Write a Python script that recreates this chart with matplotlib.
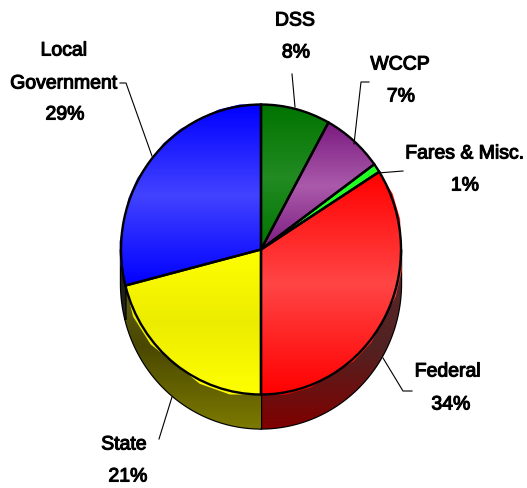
#!/usr/bin/env python3
import numpy as np
import matplotlib
matplotlib.use("Agg")
import matplotlib.pyplot as plt
import matplotlib.patheffects as pe
from matplotlib.colors import LinearSegmentedColormap
from matplotlib.lines import Line2D
from matplotlib.patches import Polygon

ANCHO, ALTO = 527, 489

categorias = ["DSS", "WCCP", "Fares & Misc.", "Federal", "State", "Local\nGovernment"]
valores = [8, 7, 1, 34, 21, 29]

# color borde / centro de cada rebanada (degradado vertical)
color_borde = ["#007400", "#7a1a80", "#22ff22", "#ff0000", "#ffff00", "#0000ff"]
color_centro = ["#228b22", "#aa5aaa", "#22ff22", "#ff4545", "#ecec00", "#4242ff"]
# lateral: abajo / medio / arriba
lado_colores = [
    ("#005000", "#003000", "#005000"),
    ("#500a50", "#300530", "#500a50"),
    ("#0a800a", "#0a600a", "#0a800a"),
    ("#800000", "#522222", "#5a2626"),
    ("#7c7a00", "#4a4800", "#6a6820"),
    ("#3a3a10", "#2a2a10", "#1a1a20"),
]

# geometria en pixeles de la imagen
CX, CY = 261, 252
RX, RY = 140, 145
PROFUNDO = 34 / RY

# (texto, x, y) en pixeles
etiquetas = [
    ("Local", 64, 52), ("Government", 64, 85), ("29%", 65, 116),
    ("DSS", 295, 22), ("8%", 296, 54),
    ("WCCP", 400, 66), ("7%", 401, 98),
    ("Fares & Misc.", 465, 155), ("1%", 465, 187),
    ("Federal", 448, 373), ("34%", 451, 406),
    ("State", 124, 446), ("21%", 128, 478),
]
guias = [
    [(120, 84), (126, 84), (152, 157)],
    [(292, 75), (295, 108)],
    [(369, 83), (361, 83), (354, 145)],
    [(403, 172), (378, 174)],
    [(412, 392), (403, 392), (383, 359)],
    [(172, 398), (159, 440)],
]


def degradado(ax, parche, colores, y0, y1):
    cmap = LinearSegmentedColormap.from_list("g", colores)
    grad = np.linspace(0, 1, 256).reshape(-1, 1)
    im = ax.imshow(grad, cmap=cmap, aspect="auto", origin="lower",
                   extent=(-2, 2, y0, y1), zorder=parche.get_zorder(),
                   interpolation="bilinear")
    im.set_clip_path(parche)


def tramos_visibles(t1, t2):
    """Parte de la rebanada en la mitad inferior (180-360 grados)."""
    t1, t2 = t1 % 360, t2 % 360
    if t2 <= t1:
        t2 += 360
    ini, fin = max(t1, 180), min(t2, 360)
    return (ini, fin) if fin > ini else None


fig = plt.figure(figsize=(ANCHO / 100, ALTO / 100), dpi=100, facecolor="white")
ax = fig.add_axes([0, 0, 1, 1])
wedges, _ = ax.pie(valores, startangle=90, counterclock=False, radius=1,
                   wedgeprops={"edgecolor": "black", "linewidth": 1.7})
ax.set_aspect("auto")

for i, w in enumerate(wedges):
    w.set_zorder(3)
    w.set_facecolor("none")
    # lateral
    tramo = tramos_visibles(w.theta1, w.theta2)
    if tramo:
        ang = np.radians(np.linspace(tramo[0], tramo[1], 80))
        arriba = np.column_stack([np.cos(ang), np.sin(ang)])
        abajo = (arriba - [0, PROFUNDO])[::-1]
        lado = Polygon(np.vstack([arriba, abajo]), closed=True, facecolor="none",
                       edgecolor="black", linewidth=1.7, zorder=1)
        ax.add_patch(lado)
        degradado(ax, lado, lado_colores[i], -1 - PROFUNDO, -0.1)
    # tapa
    fondo = w.get_path().transformed(w.get_patch_transform()).vertices
    relleno = Polygon(fondo, closed=True, facecolor="none", edgecolor="none", zorder=2)
    ax.add_patch(relleno)
    y0, y1 = fondo[:, 1].min(), fondo[:, 1].max()
    degradado(ax, relleno, [color_borde[i], color_centro[i], color_borde[i]], y0, y1)

ax.set_xlim(-CX / RX, (ANCHO - CX) / RX)
ax.set_ylim(-(ALTO - CY + 1.5) / RY, (CY - 1.5) / RY)
ax.axis("off")

for puntos in guias:
    xs = [p[0] / ANCHO for p in puntos]
    ys = [1 - p[1] / ALTO for p in puntos]
    fig.add_artist(Line2D(xs, ys, color="black", linewidth=0.8))

for texto, x, y in etiquetas:
    fig.text(x / ANCHO, 1 - y / ALTO, texto, family="Liberation Sans", fontsize=14,
             ha="center", va="center", color="black",
             path_effects=[pe.withStroke(linewidth=0.8, foreground="black")])

fig.savefig("out.png", dpi=100, facecolor="white")
